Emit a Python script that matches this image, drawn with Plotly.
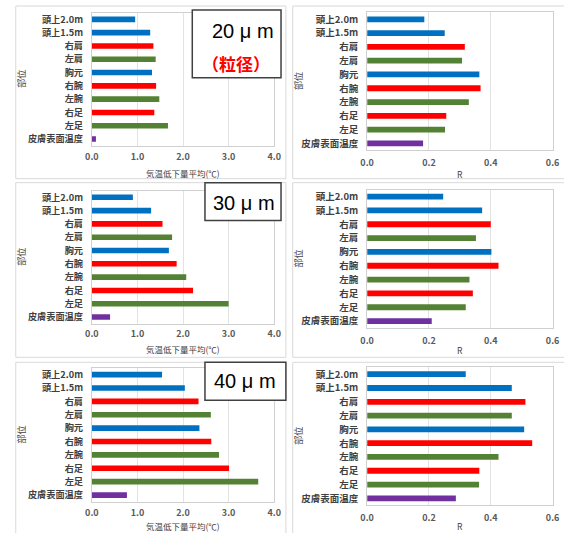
import plotly.graph_objects as go

W, H = 564, 533

# Body parts (top to bottom) and their bar colours
parts = ["頭上2.0m", "頭上1.5m", "右肩", "左肩", "胸元", "右腕", "左腕", "右足", "左足", "皮膚表面温度"]
part_colors = ["#0070C0", "#0070C0", "#FF0000", "#548235", "#0070C0",
               "#FF0000", "#548235", "#FF0000", "#548235", "#7030A0"]

# Mean air-temperature drop (°C) per particle size
drop_20 = [0.95, 1.28, 1.35, 1.40, 1.32, 1.41, 1.48, 1.37, 1.67, 0.09]
drop_30 = [0.90, 1.30, 1.55, 1.76, 1.69, 1.86, 2.07, 2.22, 3.00, 0.40]
drop_40 = [1.54, 2.04, 2.34, 2.61, 2.36, 2.62, 2.79, 3.01, 3.65, 0.77]

# Correlation coefficient R per particle size
r_20 = [0.185, 0.251, 0.316, 0.307, 0.363, 0.367, 0.329, 0.256, 0.252, 0.181]
r_30 = [0.246, 0.372, 0.400, 0.352, 0.402, 0.425, 0.331, 0.342, 0.319, 0.209]
r_40 = [0.319, 0.468, 0.512, 0.468, 0.508, 0.534, 0.425, 0.363, 0.362, 0.287]

size_labels = ["20 μ m", "30 μ m", "40 μ m"]
drop_title = "気温低下量平均(℃)"
r_title = "R"
part_axis_title = "部位"

FONT = "Noto Sans CJK JP"
TXT = "#404040"


def fx(px):
    return px / W


def fy(py):
    return 1 - py / H


# pixel geometry of each plot area: (x0, x1, y_top, y_bottom)
left_boxes = [(87, 274, 11.7, 145), (87, 274, 190, 323.3), (87, 274, 367.6, 501.7)]
right_boxes = [(369.3, 559.5, 11.4, 149.6), (369.3, 559.5, 189, 327.6), (369.3, 559.5, 367, 505.2)]
left_title_y = [172, 349, 526]
right_title_y = [173, 350, 526]

drops = [drop_20, drop_30, drop_40]
rs = [r_20, r_30, r_40]

fig = go.Figure()
layout = dict(
    width=W, height=H, margin=dict(l=0, r=0, t=0, b=0),
    paper_bgcolor="white", plot_bgcolor="white", showlegend=False,
    font=dict(family=FONT, color=TXT, size=10),
)
shapes = []
annotations = []

panels = []
for i in range(3):
    panels.append(("L", i, left_boxes[i], drops[i], [0, 4], 1.0, ".1f", drop_title, left_title_y[i]))
    panels.append(("R", i, right_boxes[i], rs[i], [0, 0.6], 0.2, ".1f", r_title, right_title_y[i]))

for k, (side, row, box, vals, rng, dt, fmt, xt, xty) in enumerate(panels):
    n = k + 1
    xa = "x" if n == 1 else f"x{n}"
    ya = "y" if n == 1 else f"y{n}"
    x0, x1, yt, yb = box
    fig.add_trace(go.Bar(
        x=vals, y=parts, orientation="h", xaxis=xa, yaxis=ya,
        marker=dict(color=part_colors, line=dict(width=0)),
        width=0.42, hoverinfo="x+y",
    ))
    xkey = "xaxis" if n == 1 else f"xaxis{n}"
    ykey = "yaxis" if n == 1 else f"yaxis{n}"
    layout[xkey] = dict(
        domain=[fx(x0), fx(x1)], anchor=ya, range=rng, dtick=dt, tick0=0,
        tickformat=fmt, showgrid=True, gridcolor="#E3E3E3", gridwidth=1,
        showline=True, linecolor="#D0D0D0", mirror=True, zeroline=False,
        ticks="outside", ticklen=2 if side == "L" else 4, tickcolor="rgba(0,0,0,0)",
        tickfont=dict(family=FONT, size=9, color="#595959", weight=700),
        fixedrange=True,
    )
    layout[ykey] = dict(
        domain=[fy(yb), fy(yt)], anchor=xa, autorange="reversed",
        type="category", showgrid=False, showline=True, linecolor="#D0D0D0",
        mirror=True, ticks="outside", ticklen=6, tickcolor="rgba(0,0,0,0)",
        tickfont=dict(family=FONT, size=9.2 if side == "L" else 9.5, color=TXT, weight=700),
        fixedrange=True,
    )
    # x-axis title
    annotations.append(dict(
        x=fx((x0 + x1) / 2), y=fy(xty), xref="paper", yref="paper",
        text=xt, showarrow=False, xanchor="center", yanchor="middle",
        font=dict(family=FONT, size=8.5, color=TXT),
    ))
    # y-axis title
    annotations.append(dict(
        x=fx(15 if side == "L" else 299), y=fy((yt + yb) / 2), xref="paper", yref="paper",
        text=part_axis_title, showarrow=False, textangle=-90,
        xanchor="center", yanchor="middle",
        font=dict(family=FONT, size=9, color=TXT),
    ))

# outer chart-area frames
frames = [
    (9, 286, 5, 178), (9, 286, 182, 357), (9, 286, 362, 545),
    (293, 575, 5, 178), (293, 575, 182, 357), (293, 575, 362, 545),
]
for (a, b, c, d) in frames:
    shapes.append(dict(type="rect", xref="paper", yref="paper",
                       x0=fx(a), x1=fx(b), y0=fy(d), y1=fy(c),
                       line=dict(color="#D9D9D9", width=1), layer="below"))

# particle-size label boxes
size_boxes = [(190, 281, 9, 77), (203, 281, 182, 220), (203, 286, 362, 400)]
for i, (a, b, c, d) in enumerate(size_boxes):
    shapes.append(dict(type="rect", xref="paper", yref="paper",
                       x0=fx(a), x1=fx(b), y0=fy(d), y1=fy(c),
                       line=dict(color="#404040", width=1.5),
                       fillcolor="white", layer="above"))
text_pos = [(242, 30), (243, 202), (244, 381)]
for i, (tx, ty) in enumerate(text_pos):
    annotations.append(dict(
        x=fx(tx), y=fy(ty), xref="paper", yref="paper", text=size_labels[i],
        showarrow=False, xanchor="center", yanchor="middle",
        font=dict(family="Liberation Sans", size=20, color="#000000"),
    ))
annotations.append(dict(
    x=fx(235), y=fy(63), xref="paper", yref="paper", text="<b>（粒径）</b>",
    showarrow=False, xanchor="center", yanchor="middle",
    font=dict(family=FONT, size=17, color="#FF0000"),
))

layout["shapes"] = shapes
layout["annotations"] = annotations
fig.update_layout(**layout)
fig.write_html("out.html")
